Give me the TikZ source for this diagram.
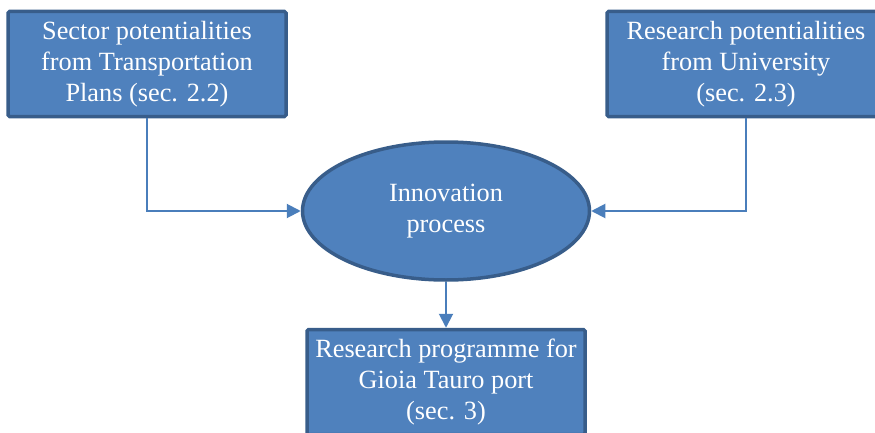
\documentclass[tikz,border=0pt]{standalone}
\usepackage{fontspec}
\setmainfont{Liberation Serif}
\usetikzlibrary{shapes.geometric,arrows.meta}
\definecolor{boxfill}{HTML}{4F81BD}
\definecolor{boxline}{HTML}{385D8A}
\definecolor{connline}{HTML}{4A7EBB}
\tikzset{
  txt/.style={text=white, font=\fontsize{26.3}{31}\selectfont, align=center, inner sep=0pt},
  blk/.style={txt, draw=boxline, fill=boxfill, line width=3.5pt, rounded corners=1.5pt, minimum width=278pt, minimum height=105pt},
  oval/.style={txt, ellipse, draw=boxline, fill=boxfill, line width=3.5pt, minimum width=287pt, minimum height=138pt},
  conn/.style={draw=connline, line width=2pt, -{Triangle[length=14pt,width=14pt]}}
}
\begin{document}
\begin{tikzpicture}[x=1pt,y=1pt]
\useasboundingbox (0,0) rectangle (875,432);
\clip (0,0) rectangle (875,432);
\node[blk] (L) at (147,368) {Sector potentialities\\from Transportation\\Plans (sec. 2.2)};
\node[blk] (R) at (746,368) {Research potentialities\\from University\\(sec. 2.3)};
\node[oval] (E) at (446,221) {Innovation\\process};
\node[blk] (B) at (446,50) {Research programme for\\Gioia Tauro port\\(sec. 3)};
\draw[conn] (L.south) |- (E.west);
\draw[conn] (R.south) |- (E.east);
\draw[conn] (E.south) -- (B.north);
\end{tikzpicture}
\end{document}
